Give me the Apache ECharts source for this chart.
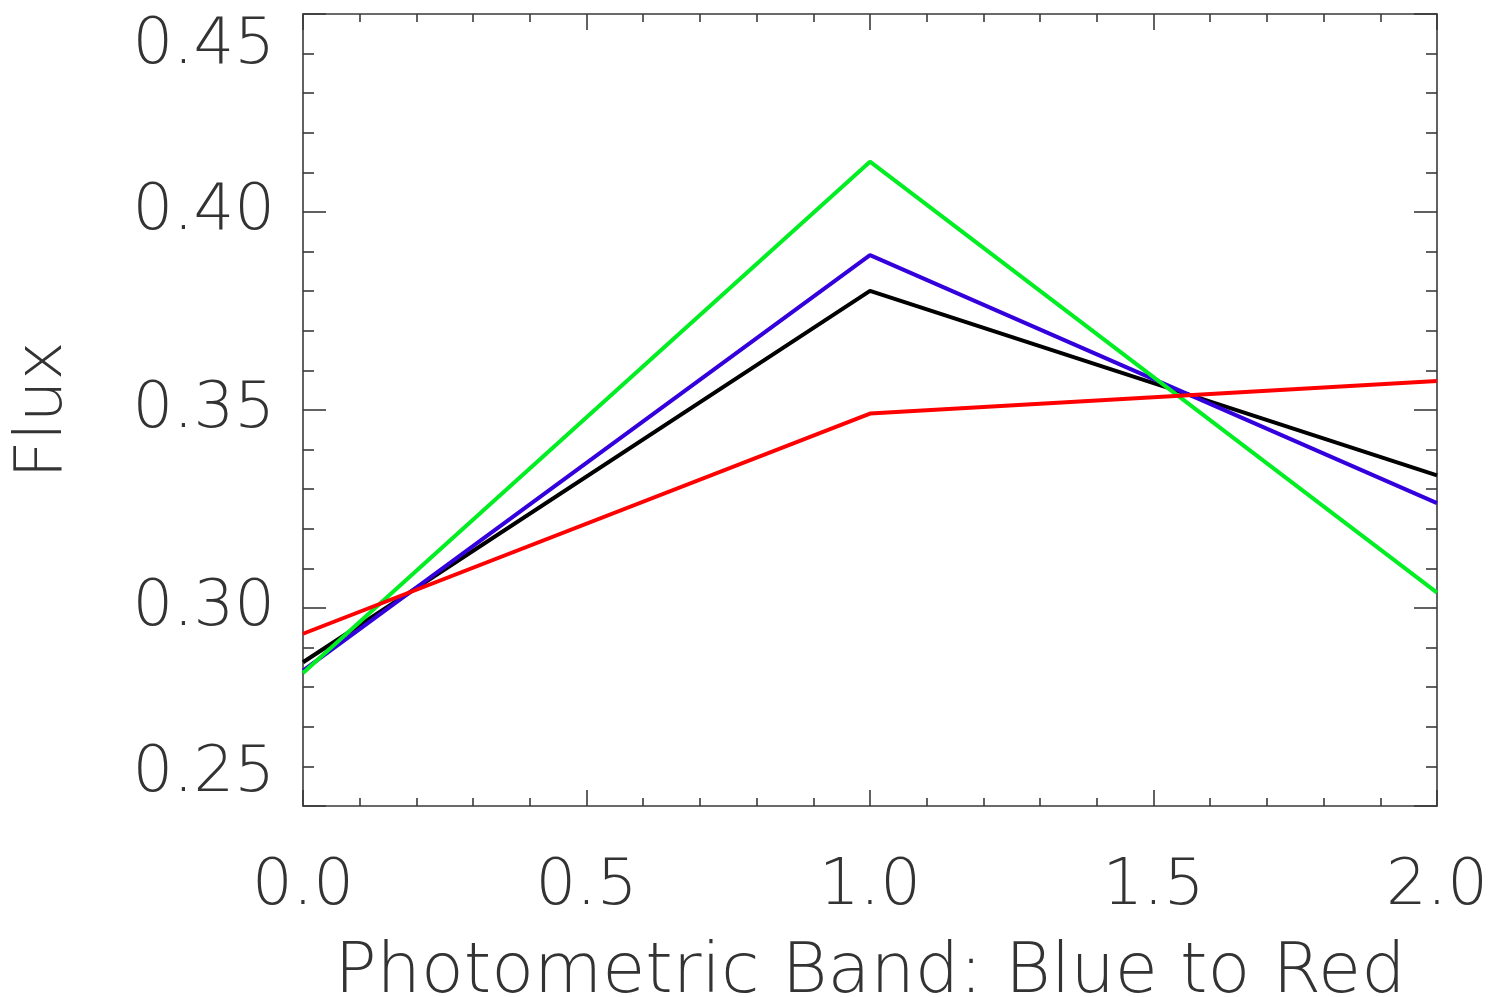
<!DOCTYPE html>
<html>
<head>
<meta charset="utf-8">
<title>Flux by photometric band</title>
<script src="https://cdn.jsdelivr.net/npm/echarts@6/dist/echarts.min.js"></script>
<style>
  html, body { margin: 0; padding: 0; background: #ffffff; }
  #chart { width: 1494px; height: 997px; }
</style>
</head>
<body>
<div id="chart"></div>
<script>
// Photometric bands: 0 = blue, 1 = middle, 2 = red
const bands = [0, 1, 2];

// Flux per band for each object
const fluxBlack = [0.2863, 0.3801, 0.3335];
const fluxBlue  = [0.2842, 0.3891, 0.3265];
const fluxGreen = [0.2836, 0.4127, 0.3039];
const fluxRed   = [0.2935, 0.3491, 0.3573];

const seriesList = [
  { name: 'black', color: '#000000', values: fluxBlack },
  { name: 'blue',  color: '#3300dd', values: fluxBlue },
  { name: 'green', color: '#00ee22', values: fluxGreen },
  { name: 'red',   color: '#ff0000', values: fluxRed }
];

const FONT = "'DejaVu Sans ExtraLight', 'DejaVu Sans', sans-serif";
const AXIS_COLOR = '#3a3a3a';
const TEXT_COLOR = '#333333';

const chart = echarts.init(document.getElementById('chart'), null, { renderer: 'canvas' });

const lineStyle = { color: AXIS_COLOR, width: 1.6 };

function xAxisDef(pos, showLabels) {
  return {
    type: 'value', position: pos, min: 0, max: 2, interval: 0.5,
    axisLine: { show: true, onZero: false, lineStyle },
    axisTick: { show: true, inside: true, length: 16, lineStyle },
    minorTick: { show: true, splitNumber: 5, length: 8, lineStyle },
    splitLine: { show: false },
    axisLabel: {
      show: showLabels, margin: 49, fontSize: 64, fontFamily: FONT, fontWeight: 200,
      color: TEXT_COLOR, formatter: v => v.toFixed(1)
    },
    name: showLabels ? 'Photometric Band: Blue to Red' : '',
    nameLocation: 'middle', nameGap: 133,
    nameTextStyle: { fontSize: 70, fontFamily: FONT, fontWeight: 200, color: TEXT_COLOR }
  };
}

function yAxisDef(pos, showLabels) {
  return {
    type: 'value', position: pos, min: 0.25, max: 0.45, interval: 0.05,
    axisLine: { show: true, onZero: false, lineStyle },
    axisTick: { show: true, inside: true, length: 23, lineStyle },
    minorTick: { show: true, splitNumber: 5, length: 11, lineStyle },
    splitLine: { show: false },
    axisLabel: {
      show: showLabels, margin: 28, fontSize: 64, fontFamily: FONT, fontWeight: 200,
      color: TEXT_COLOR, formatter: v => v.toFixed(2),
      verticalAlignMinLabel: 'bottom', verticalAlignMaxLabel: 'top'
    },
    name: showLabels ? 'Flux' : '',
    nameLocation: 'middle', nameGap: 226, nameRotate: 90,
    nameTextStyle: { fontSize: 66, fontFamily: FONT, fontWeight: 200, color: TEXT_COLOR }
  };
}

chart.setOption({
  backgroundColor: '#ffffff',
  animation: false,
  grid: { left: 303, right: 57, top: 14, bottom: 191, containLabel: false, outerBoundsMode: 'none' },
  xAxis: [xAxisDef('bottom', true), xAxisDef('top', false)],
  yAxis: [yAxisDef('left', true), yAxisDef('right', false)],
  series: seriesList.map(s => ({
    name: s.name,
    type: 'line',
    xAxisIndex: 0, yAxisIndex: 0,
    data: bands.map((b, i) => [b, s.values[i]]),
    showSymbol: false,
    lineStyle: { color: s.color, width: 4 },
    itemStyle: { color: s.color }
  }))
});
</script>
</body>
</html>
